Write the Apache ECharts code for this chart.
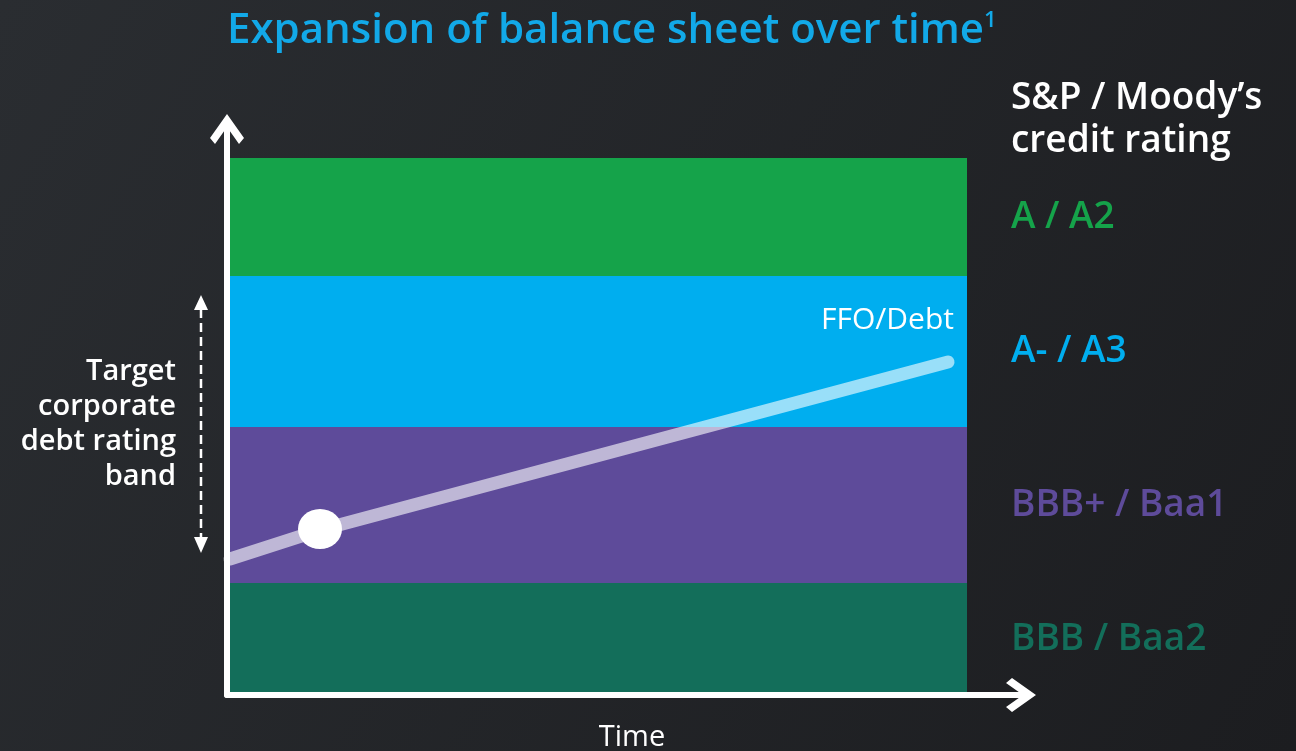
<!DOCTYPE html>
<html>
<head>
<meta charset="utf-8">
<script src="https://cdn.jsdelivr.net/npm/echarts@6/dist/echarts.min.js"></script>
<style>
html,body{margin:0;padding:0;background:#222427;}
#c{width:1296px;height:751px;}
</style>
</head>
<body>
<div id="c"></div>
<script>
// ---- data ----
const titleText = 'Expansion of balance sheet over time';
const titleSup = '1';
const ratingHeader = ['S&P / Moody\u2019s', 'credit rating'];
const ratingLabels = ['BBB / Baa2', 'BBB+ / Baa1', 'A- / A3', 'A / A2'];
const bandEdges = [0, 112, 268, 419, 537];   // y units, bottom to top
const bandColors = ['#136e5a', '#5e4b9a', '#00aeef', '#15a34a'];
const bandEndX = 740;                          // time units
const xMax = 794;
const yMax = 566;
const ffoX = [3, 93, 721];
const ffoY = [136, 165, 333];
const startPoint = [93, 166];
const lineLabel = 'FFO/Debt';
const targetLabel = ['Target', 'corporate', 'debt rating', 'band'];
const xAxisName = 'Time';

const chart = echarts.init(document.getElementById('c'));
const FONT = '"Open Sans", "Noto Sans", sans-serif';

const areas = ratingLabels.map((lab, i) => [
  { xAxis: 0, yAxis: bandEdges[i], itemStyle: { color: bandColors[i] },
    label: { show: true, position: 'right', distance: 44, formatter: lab,
      color: bandColors[i], fontSize: 37, fontWeight: 600, fontFamily: FONT } },
  { xAxis: bandEndX, yAxis: bandEdges[i + 1] }
]);

const chevron = 'path://M17 0 L34 24 L29 30 L17 13 L5 30 L0 24 Z';

chart.setOption({
  backgroundColor: {
    type: 'linear', x: 0, y: 0, x2: 1, y2: 1,
    colorStops: [{ offset: 0, color: '#2a2d31' }, { offset: 1, color: '#1c1d20' }]
  },
  animation: false,
  title: {
    text: '{t|' + titleText + '}{s|' + titleSup + '}',
    left: 222, top: 5,
    textStyle: {
      rich: {
        t: { fontSize: 42, fontWeight: 600, color: '#12a9e8', fontFamily: FONT },
        s: { fontSize: 22, fontWeight: 600, color: '#12a9e8', fontFamily: FONT, verticalAlign: 'top', padding: [0, 0, 16, 0] }
      }
    }
  },
  grid: { left: 227, right: 275, top: 129, bottom: 56 },
  xAxis: {
    type: 'value', min: 0, max: xMax, z: 5,
    axisLine: { show: true, lineStyle: { color: '#ffffff', width: 6 },
      symbol: ['none', chevron], symbolSize: [34, 32] },
    axisTick: { show: false }, axisLabel: { show: false }, splitLine: { show: false }
  },
  yAxis: {
    type: 'value', min: 0, max: yMax, z: 5,
    axisLine: { show: true, lineStyle: { color: '#ffffff', width: 6 },
      symbol: ['none', chevron], symbolSize: [34, 32] },
    axisTick: { show: false }, axisLabel: { show: false }, splitLine: { show: false }
  },
  series: [
    {
      type: 'line', data: [], z: 1, silent: true,
      markArea: { silent: true, data: areas }
    },
    {
      type: 'line', z: 3, silent: true,
      data: ffoX.map((x, i) => [x, ffoY[i]]),
      showSymbol: false, smooth: false,
      lineStyle: { color: 'rgba(255,255,255,0.6)', width: 13, cap: 'round', join: 'round' }
    },
    {
      type: 'scatter', z: 4, silent: true,
      data: [startPoint], symbol: 'circle', symbolSize: [44, 40],
      itemStyle: { color: '#ffffff', opacity: 1 }
    }
  ],
  graphic: [
    { type: 'text', left: 1011, top: 77,
      style: { text: ratingHeader.join('\n'), fill: '#ffffff', fontSize: 37, fontWeight: 600,
        fontFamily: FONT, lineHeight: 43 } },
    { type: 'text', x: 954, y: 320,
      style: { text: lineLabel, fill: '#ffffff', fontSize: 30, fontFamily: FONT,
        textAlign: 'right', textVerticalAlign: 'middle' }, z: 10 },
    { type: 'text', x: 176, y: 424,
      style: { text: targetLabel.join('\n'), fill: '#ffffff', fontSize: 29, fontWeight: 600,
        fontFamily: FONT, lineHeight: 35, textAlign: 'right', textVerticalAlign: 'middle' } },
    { type: 'line', shape: { x1: 201, y1: 309, x2: 201, y2: 538 },
      style: { stroke: '#ffffff', lineWidth: 2.5, lineDash: [9, 5] } },
    { type: 'polygon', shape: { points: [[201, 295], [194, 310], [208, 310]] }, style: { fill: '#ffffff' } },
    { type: 'polygon', shape: { points: [[201, 553], [194, 537], [208, 537]] }, style: { fill: '#ffffff' } },
    { type: 'text', x: 632, y: 738,
      style: { text: xAxisName, fill: '#ffffff', fontSize: 29, fontFamily: FONT,
        textAlign: 'center', textVerticalAlign: 'middle' } }
  ]
});
</script>
</body>
</html>
